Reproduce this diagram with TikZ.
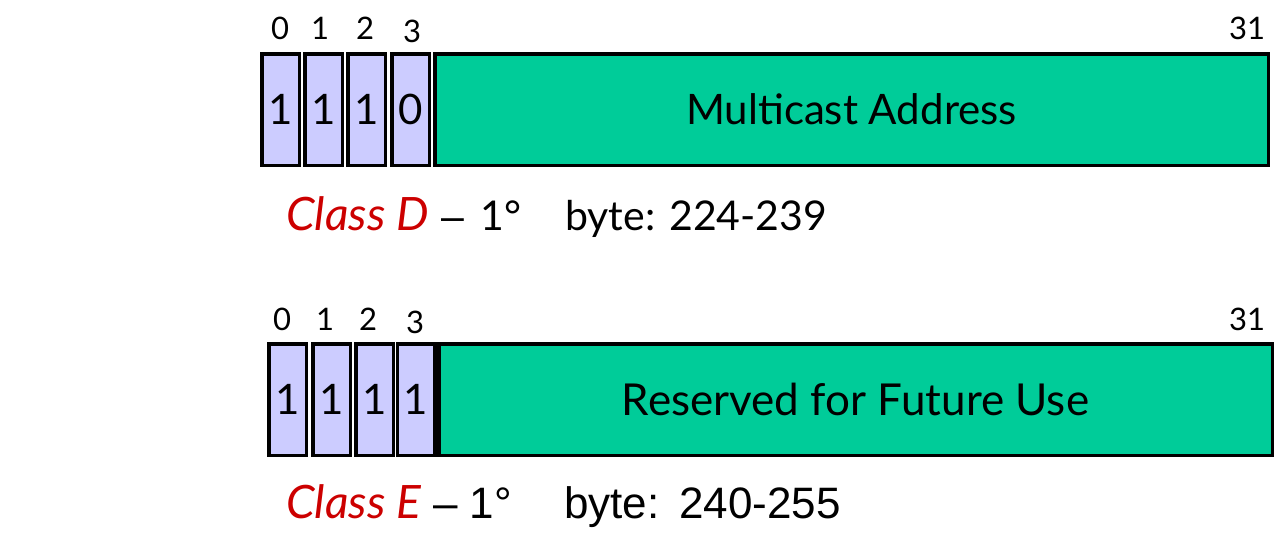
\documentclass[tikz,border=0pt]{standalone}
\usepackage{fontspec}
\setmainfont{Lato}
\newfontfamily\arialf{Liberation Sans}
\definecolor{bitfill}{HTML}{CCCCFF}
\definecolor{fieldfill}{HTML}{00CC99}
\definecolor{classred}{HTML}{CC0000}
\begin{document}
\begin{tikzpicture}[x=1pt,y=-1pt,
  bitbox/.style={draw=black,line width=3.5pt,fill=bitfill,inner sep=0pt,
    minimum width=37.5pt,minimum height=111.5pt,font=\fontsize{42}{42}\selectfont},
  fieldbox/.style={draw=black,line width=3.5pt,fill=fieldfill,inner sep=0pt,
    minimum height=111.5pt,font=\fontsize{42}{42}\selectfont},
  bitnum/.style={inner sep=0pt,anchor=base,font=\fontsize{31}{31}\selectfont},
  classlbl/.style={inner sep=0pt,anchor=base west,text=classred,font=\fontsize{46}{46}\selectfont\itshape},
  caption/.style={inner sep=0pt,anchor=base west,font=\fontsize{41}{41}\selectfont},
  captionarial/.style={inner sep=0pt,anchor=base west,font=\arialf\fontsize{44}{44}\selectfont}]
\useasboundingbox (0,0) rectangle (1287,538);
% Class D
\node[bitbox] (d0) at (280.5,109.5) {1};
\node[bitbox] (d1) at (323.5,109.5) {1};
\node[bitbox] (d2) at (366.5,109.5) {1};
\node[bitbox] (d3) at (410.5,109.5) {0};
\node[fieldbox,minimum width=833.5pt] (dm) at (851.5,109.5) {Multicast Address};
\node[bitnum] (dn0) at (280,39) {0};
\node[bitnum] (dn1) at (320,39) {1};
\node[bitnum] (dn2) at (365,39) {2};
\node[bitnum] (dn3) at (412,42) {3};
\node[bitnum] (dn31) at (1247,39) {31};
\node[classlbl] (dcls) at (286,230) {Class D};
\node[caption] (dpri) at (441,230) {{\arialf\textendash}\hspace{0.4em}1°};
\node[caption] (dbyte) at (565,230) {byte: 224-239};
% Class E
\node[bitbox] (e0) at (287.5,399.5) {1};
\node[bitbox] (e1) at (331.5,399.5) {1};
\node[bitbox] (e2) at (374.5,399.5) {1};
\node[bitbox] (e3) at (416,399.5) {1};
\node[fieldbox,minimum width=833.5pt,font=\fontsize{44}{44}\selectfont] (em) at (855.5,399.5) {Reserved for Future Use};
\node[bitnum] (en0) at (282,330) {0};
\node[bitnum] (en1) at (325,330) {1};
\node[bitnum] (en2) at (368,330) {2};
\node[bitnum] (en3) at (415,333) {3};
\node[bitnum] (en31) at (1247,330) {31};
\node[classlbl] (ecls) at (286,518) {Class E};
\node[captionarial] (epri) at (433,518) {\textendash{} 1°};
\node[captionarial] (ebyte) at (564,518) {byte:\hspace{0.45em}240-255};
\end{tikzpicture}
\end{document}
